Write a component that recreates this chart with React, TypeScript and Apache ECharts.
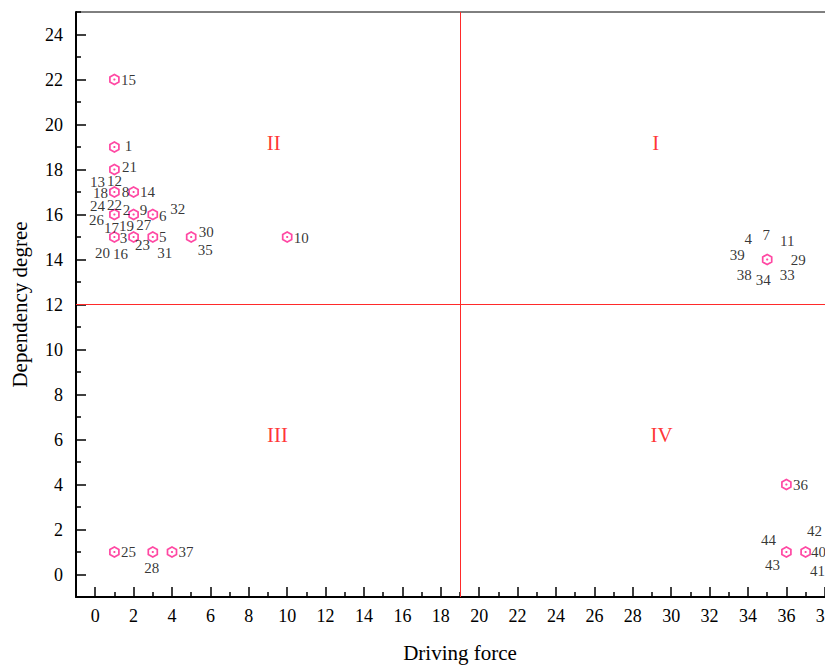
import React, { useEffect, useRef } from "react";
import * as echarts from "echarts";

// Variables (factor ids) with their driving force and dependency degree
const variables = [
  "1", "2", "3", "4", "5", "6", "7", "8", "9", "10",
  "11", "12", "13", "14", "15", "16", "17", "18", "19", "20",
  "21", "22", "23", "24", "25", "26", "27", "28", "29", "30",
  "31", "32", "33", "34", "35", "36", "37", "38", "39", "40",
  "41", "42", "43", "44",
];
const drivingForce = [
  1, 2, 1, 35, 3, 3, 35, 1, 2, 10,
  35, 1, 1, 2, 1, 1, 1, 1, 2, 1,
  1, 1, 2, 1, 1, 1, 3, 3, 35, 5,
  3, 3, 35, 35, 5, 36, 4, 35, 35, 37,
  37, 37, 36, 36,
];
const dependencyDegree = [
  19, 16, 15, 14, 15, 16, 14, 17, 16, 15,
  14, 17, 17, 17, 22, 15, 16, 17, 16, 15,
  18, 16, 15, 16, 1, 16, 16, 1, 14, 15,
  15, 16, 14, 14, 15, 4, 1, 14, 14, 1,
  1, 1, 1, 1,
];

// Quadrant thresholds and names
const thresholdX = 19;
const thresholdY = 12;
const quadrants = [
  { name: "I", x: 29.2, y: 19.2 },
  { name: "II", x: 9.3, y: 19.2 },
  { name: "III", x: 9.5, y: 6.2 },
  { name: "IV", x: 29.5, y: 6.2 },
];

// Axis tick values
const xMajor = [0, 2, 4, 6, 8, 10, 12, 14, 16, 18, 20, 22, 24, 26, 28, 30, 32, 34, 36, 38];
const xMinor = [-1, 1, 3, 5, 7, 9, 11, 13, 15, 17, 19, 21, 23, 25, 27, 29, 31, 33, 35, 37, 39];
const yMajor = [0, 2, 4, 6, 8, 10, 12, 14, 16, 18, 20, 22, 24];
const yMinor = [-1, 1, 3, 5, 7, 9, 11, 13, 15, 17, 19, 21, 23, 25];

// Label offsets in pixels (styling only), by variable index
const labelOffsets: [number, number][] = [
  [14, -1], [-7, -5], [9, 1], [-19, -21], [10, 0], [10, 1], [-1, -25], [11, 0], [10, -5], [14, 1],
  [20, -19], [0, -11], [-17, -10], [14, 0], [14, 0], [6, 17], [-3, 13], [-14, 1], [-7, 11], [-12, 16],
  [15, -3], [0, -10], [9, 8], [-17, -9], [14, 0], [-18, 5], [-9, 10], [-1, 16], [31, 0], [15, -5],
  [12, 16], [25, -6], [20, 15], [-4, 20], [14, 13], [14, 0], [14, 0], [-23, 15], [-30, -5], [13, 0],
  [12, 19], [9, -21], [-14, 13], [-18, -12],
];

const PINK = "#ff1a8c";
const RED = "#ff2a2a";
const FONT = "'Liberation Serif', 'Times New Roman', serif";
const HEX = "path://M0,-1L0.866,-0.5L0.866,0.5L0,1L-0.866,0.5L-0.866,-0.5Z";

export default function App() {
  const ref = useRef<HTMLDivElement>(null);
  useEffect(() => {
    if (!ref.current) return;
    document.documentElement.style.overflow = "hidden";
    document.body.style.overflow = "hidden";
    const chart = echarts.init(ref.current, null, { renderer: "svg" });
    const labelBase = {
      show: true,
      position: "inside",
      formatter: "{b}",
      fontFamily: FONT,
      fontSize: 15,
      color: "#000",
      textBorderWidth: 0,
      textBorderColor: "transparent",
    };
    const labelPts = variables.map((v, i) => ({
      name: v,
      value: [drivingForce[i], dependencyDegree[i]],
      label: { offset: labelOffsets[i] },
    }));
    // unique marker positions (several variables share a point)
    const seen = new Set<string>();
    const markerPts: number[][] = [];
    variables.forEach((v, i) => {
      const key = drivingForce[i] + "," + dependencyDegree[i];
      if (!seen.has(key)) {
        seen.add(key);
        markerPts.push([drivingForce[i], dependencyDegree[i]]);
      }
    });
    const xBase = {
      type: "value",
      min: -1,
      max: 39,
      gridIndex: 0,
      splitLine: { show: false },
    };
    const yBase = {
      type: "value",
      min: -1,
      max: 25,
      gridIndex: 0,
      splitLine: { show: false },
    };
    chart.setOption({
      animation: false,
      backgroundColor: "#fff",
      grid: {
        left: 68,
        top: 4,
        width: 768,
        height: 585,
        show: true,
        borderColor: "#000",
        borderWidth: 1,
        outerBoundsMode: "none",
        containLabel: false,
      },
      xAxis: [
        {
          ...xBase,
          position: "bottom",
          name: "Driving force",
          nameLocation: "middle",
          nameGap: 45,
          nameTextStyle: { fontFamily: FONT, fontSize: 21, color: "#000" },
          axisLine: { show: true, onZero: false, lineStyle: { color: "#000", width: 2 } },
          axisTick: { show: true, inside: true, length: 10, customValues: xMajor, lineStyle: { color: "#000", width: 1.5 } },
          axisLabel: { show: true, customValues: xMajor, margin: 10, fontFamily: FONT, fontSize: 18, color: "#000" },
        },
        {
          ...xBase,
          position: "bottom",
          axisLine: { show: false, onZero: false },
          axisTick: { show: true, inside: true, length: 5, customValues: xMinor, lineStyle: { color: "#000", width: 1.5 } },
          axisLabel: { show: false },
        },
      ],
      yAxis: [
        {
          ...yBase,
          position: "left",
          name: "Dependency degree",
          nameLocation: "middle",
          nameGap: 46,
          nameTextStyle: { fontFamily: FONT, fontSize: 21, color: "#000" },
          axisLine: { show: true, onZero: false, lineStyle: { color: "#000", width: 2 } },
          axisTick: { show: true, inside: true, length: 10, customValues: yMajor, lineStyle: { color: "#000", width: 1.5 } },
          axisLabel: { show: true, customValues: yMajor, margin: 13, fontFamily: FONT, fontSize: 18, color: "#000" },
        },
        {
          ...yBase,
          position: "left",
          axisLine: { show: false, onZero: false },
          axisTick: { show: true, inside: true, length: 5, customValues: yMinor, lineStyle: { color: "#000", width: 1.5 } },
          axisLabel: { show: false },
        },
      ],
      series: [
        {
          type: "scatter",
          xAxisIndex: 0,
          yAxisIndex: 0,
          symbol: HEX,
          symbolSize: [9, 10],
          itemStyle: { color: "#fff", borderColor: PINK, borderWidth: 1.8 },
          data: markerPts,
          markLine: {
            silent: true,
            symbol: "none",
            label: { show: false },
            lineStyle: { color: RED, width: 1, type: "solid", opacity: 1 },
            data: [
              { xAxis: thresholdX, lineStyle: { color: RED, width: 1, type: "solid" } },
              { yAxis: thresholdY, lineStyle: { color: RED, width: 1, type: "solid" } },
            ],
          },
          z: 3,
        },
        {
          type: "scatter",
          xAxisIndex: 0,
          yAxisIndex: 0,
          symbol: "circle",
          symbolSize: 2.2,
          itemStyle: { color: PINK },
          data: markerPts,
          z: 4,
        },
        {
          type: "scatter",
          xAxisIndex: 0,
          yAxisIndex: 0,
          symbolSize: 0,
          label: labelBase,
          data: labelPts,
          z: 5,
        },
        {
          type: "scatter",
          xAxisIndex: 0,
          yAxisIndex: 0,
          symbolSize: 0,
          label: { ...labelBase, fontSize: 21, color: "#ff0000" },
          data: quadrants.map((q) => ({ name: q.name, value: [q.x, q.y] })),
          z: 2,
        },
      ],
    });
    return () => chart.dispose();
  }, []);
  return <div ref={ref} style={{ width: 845, height: 660 }} />;
}
